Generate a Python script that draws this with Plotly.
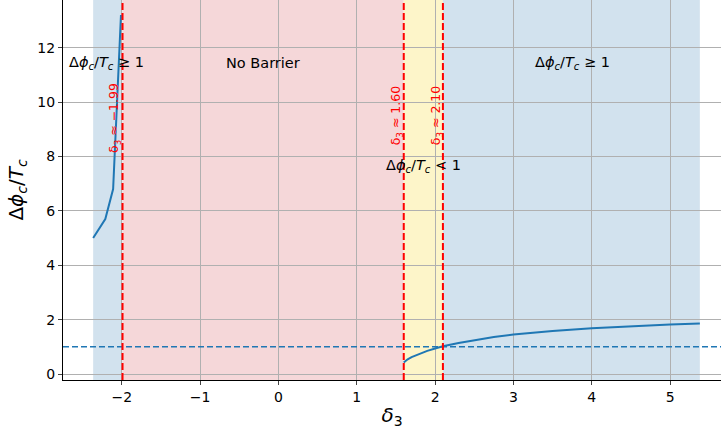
import plotly.graph_objects as go

# Data
left_x = [-2.365, -2.21, -2.11, -2.06, -2.01]
left_y = [5.0, 5.7, 6.8, 10.07, 13.2]
right_x = [1.6, 1.65, 1.7, 1.8, 1.9, 2.0, 2.1, 2.3, 2.5, 2.75, 3.0, 3.5, 4.0, 4.5, 5.0, 5.38]
right_y = [0.42, 0.54, 0.62, 0.74, 0.85, 0.94, 1.02, 1.14, 1.24, 1.36, 1.45, 1.58, 1.68, 1.76, 1.82, 1.86]
crit_lines = [-1.99, 1.60, 2.10]
crit_labels = ["δ<sub>3</sub> ≈ −1.99", "δ<sub>3</sub> ≈ 1.60", "δ<sub>3</sub> ≈ 2.10"]
regions = [(-2.365, -1.99, "#d2e2ee"), (-1.99, 1.60, "#f5d7d9"), (1.60, 2.10, "#fdf5c9"), (2.10, 5.38, "#d2e2ee")]
region_texts = [(-2.19, 11.45, "Δ<i>ϕ<sub>c</sub></i>/<i>T<sub>c</sub></i> ≥ 1"),
                (-0.2, 11.45, "No Barrier"),
                (1.85, 7.65, "Δ<i>ϕ<sub>c</sub></i>/<i>T<sub>c</sub></i> < 1"),
                (3.75, 11.45, "Δ<i>ϕ<sub>c</sub></i>/<i>T<sub>c</sub></i> ≥ 1")]
threshold = 1.0
xticks = [-2, -1, 0, 1, 2, 3, 4, 5]
yticks = [0, 2, 4, 6, 8, 10, 12]

fig = go.Figure()
for x0, x1, c in regions:
    fig.add_shape(type="rect", x0=x0, x1=x1, y0=0, y1=1, xref="x", yref="paper",
                  fillcolor=c, line_width=0, layer="below")

fig.add_trace(go.Scatter(x=left_x, y=left_y, mode="lines", line=dict(color="#1f77b4", width=2), showlegend=False))
fig.add_trace(go.Scatter(x=right_x, y=right_y, mode="lines", line=dict(color="#1f77b4", width=2), showlegend=False))

fig.add_shape(type="line", x0=0, x1=1, xref="paper", y0=threshold, y1=threshold, yref="y",
              line=dict(color="#1f77b4", width=1.5, dash="6px,3px"))
for xv in crit_lines:
    fig.add_shape(type="line", x0=xv, x1=xv, xref="x", y0=0, y1=1, yref="paper",
                  line=dict(color="#ff0000", width=2, dash="7px,3px"))

label_pos = [(-2.09, 9.4), (1.51, 9.5), (2.02, 9.5)]
for (lx, ly), t in zip(label_pos, crit_labels):
    fig.add_annotation(x=lx, y=ly, text=t, showarrow=False, textangle=-90,
                       font=dict(color="#ff0000", size=12.5, family="DejaVu Sans"))
for tx, ty, t in region_texts:
    fig.add_annotation(x=tx, y=ty, text=t, showarrow=False,
                       font=dict(color="black", size=14.5, family="DejaVu Sans"))

fig.update_layout(
    width=721, height=429,
    margin=dict(l=63, r=0, t=0, b=49),
    plot_bgcolor="white", paper_bgcolor="white",
    font=dict(family="DejaVu Sans", color="black"),
)
fig.update_xaxes(range=[-2.75, 5.65], tickvals=xticks, ticktext=["−2", "−1", "0", "1", "2", "3", "4", "5"],
                 showgrid=True, gridcolor="#b0b0b0", gridwidth=1, zeroline=False,
                 showline=True, linecolor="black", linewidth=1, ticks="outside", ticklen=4,
                 tickfont=dict(size=14), title=dict(text="<i>δ</i><sub>3</sub>", font=dict(size=20), standoff=6))
fig.update_yaxes(range=[-0.22, 13.75], tickvals=yticks,
                 showgrid=True, gridcolor="#b0b0b0", gridwidth=1, zeroline=False,
                 showline=True, linecolor="black", linewidth=1, ticks="outside", ticklen=4,
                 tickfont=dict(size=14), title=dict(text="Δ<i>ϕ<sub>c</sub></i>/<i>T<sub>c</sub></i>", font=dict(size=20), standoff=8))

fig.write_html("out.html")
